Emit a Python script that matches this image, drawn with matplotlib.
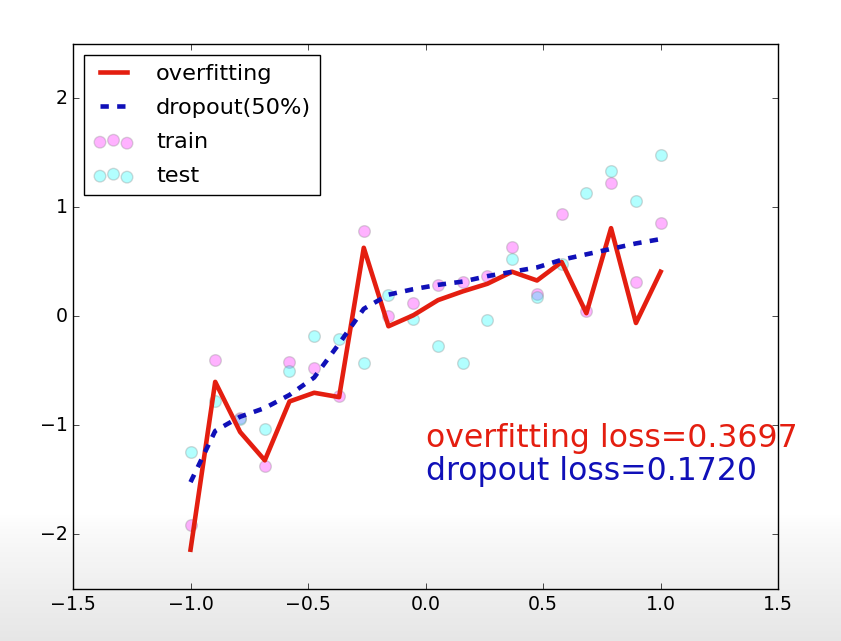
import numpy as np
import matplotlib
matplotlib.use("Agg")
import matplotlib.pyplot as plt
from matplotlib.colors import LinearSegmentedColormap

plt.style.use('classic')
plt.rcParams['font.size'] = 13.6
plt.rcParams['legend.fontsize'] = 16.2

x = [-1.0, -0.895, -0.789, -0.684, -0.579, -0.474, -0.368, -0.263, -0.158, -0.053,
     0.053, 0.158, 0.263, 0.368, 0.474, 0.579, 0.684, 0.789, 0.895, 1.0]

train_y = [-1.91, -0.40, -0.93, -1.37, -0.42, -0.47, -0.73, 0.78, 0.00, 0.12,
           0.29, 0.32, 0.37, 0.64, 0.21, 0.94, 0.05, 1.22, 0.32, 0.86]
test_y = [-1.24, -0.78, -0.94, -1.03, -0.50, -0.18, -0.21, -0.43, 0.20, -0.02,
          -0.27, -0.43, -0.03, 0.53, 0.18, 0.48, 1.13, 1.33, 1.06, 1.48]
overfit_y = [-2.14, -0.60, -1.06, -1.32, -0.78, -0.70, -0.74, 0.63, -0.09, 0.01,
             0.15, 0.23, 0.30, 0.41, 0.33, 0.50, 0.03, 0.81, -0.06, 0.41]
dropout_y = [-1.52, -1.05, -0.92, -0.84, -0.72, -0.56, -0.25, 0.07, 0.20, 0.25,
             0.29, 0.32, 0.37, 0.41, 0.45, 0.52, 0.57, 0.62, 0.67, 0.71]

overfit_loss = 0.3697
dropout_loss = 0.1720

RED = '#e41e10'
BLUE = '#1010b8'

fig = plt.figure(figsize=(8.41, 6.41), dpi=100, facecolor='white')
ax = fig.add_axes([0.0868, 0.0812, 0.8385, 0.8502])

ax.scatter(x, train_y, c='magenta', s=70, alpha=0.3, edgecolors='gray', label='train')
ax.scatter(x, test_y, c='cyan', s=70, alpha=0.3, edgecolors='gray', label='test')
ax.plot(x, overfit_y, '-', color=RED, lw=3.3, label='overfitting')
ax.plot(x, dropout_y, '--', color=BLUE, lw=3.3, label='dropout(50%)')

ax.text(0, -1.2, 'overfitting loss=%.4f' % overfit_loss, fontdict={'size': 22.7, 'color': RED})
ax.text(0, -1.5, 'dropout loss=%.4f' % dropout_loss, fontdict={'size': 22.7, 'color': BLUE})

handles, labels = ax.get_legend_handles_labels()
order = [2, 3, 0, 1]
ax.legend([handles[i] for i in order], [labels[i] for i in order], loc='upper left',
          handlelength=1.8, handletextpad=1.0, labelspacing=0.62)

ax.set_xlim(-1.5, 1.5)
ax.set_ylim(-2.5, 2.5)

# light gray gradient overlay at the bottom of the screenshot
ov = fig.add_axes([0, 0, 1, 0.2], zorder=10)
grad = np.linspace(0, 1, 100).reshape(-1, 1) ** 0.8
cmap = LinearSegmentedColormap.from_list('ov', [(0, 0, 0, 0.0), (0, 0, 0, 0.1)])
ov.imshow(grad, aspect='auto', cmap=cmap, extent=[0, 1, 0, 1], origin='upper', vmin=0, vmax=1)
ov.axis('off')

fig.savefig('out.png', dpi=100, facecolor='white')
